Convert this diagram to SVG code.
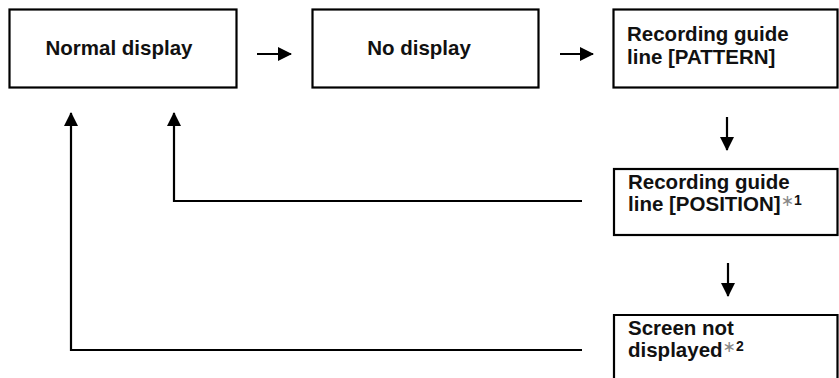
<svg xmlns="http://www.w3.org/2000/svg" width="839" height="378" viewBox="0 0 839 378">
<style>
.box{fill:#fff;stroke:#000;stroke-width:2.2}
.t{font-family:"Liberation Sans",Arial,sans-serif;font-weight:bold;font-size:20.5px;fill:#111}
.c{fill:none;stroke:#000;stroke-width:2.2}
.ast{font-family:"DejaVu Sans",sans-serif;font-weight:normal;fill:#888;font-size:16px}
.sup{font-size:14px}
</style>
<defs>
<marker id="ah" viewBox="0 0 14 14" refX="13" refY="7" markerWidth="14" markerHeight="14" markerUnits="userSpaceOnUse" orient="auto">
<path d="M0,0 L14,7 L0,14 Z" fill="#000"/>
</marker>
</defs>
<g id="normal"><rect class="box" x="9.5" y="9.5" width="227" height="78"/><text class="t" x="119" y="55" text-anchor="middle">Normal display</text></g>
<g id="nodisplay"><rect class="box" x="312.5" y="9.5" width="226" height="78"/><text class="t" x="419" y="55" text-anchor="middle">No display</text></g>
<g id="pattern"><rect class="box" x="613.5" y="9.5" width="224" height="78"/><text class="t" x="627" y="41">Recording guide</text><text class="t" x="627" y="64">line [PATTERN]</text></g>
<g id="position"><rect class="box" x="614" y="169" width="223.5" height="66"/><text class="t" x="628" y="189">Recording guide</text><text class="t" x="628" y="211">line [POSITION]<tspan class="ast" dx="0" dy="-5">∗</tspan><tspan class="sup" dy="-1">1</tspan></text></g>
<g id="notdisplayed"><path class="box" d="M614,390 V315 H837.5 V390"/><text class="t" x="628" y="335">Screen not</text><text class="t" x="628" y="357">displayed<tspan class="ast" dx="0" dy="-5">∗</tspan><tspan class="sup" dy="-1">2</tspan></text></g>
<g id="connectors">
<path class="c" d="M257,54 H291" marker-end="url(#ah)"/>
<path class="c" d="M560,54 H593" marker-end="url(#ah)"/>
<path class="c" d="M727,117 V150" marker-end="url(#ah)"/>
<path class="c" d="M728,263 V296" marker-end="url(#ah)"/>
<path class="c" d="M582,201 H174 V113" marker-end="url(#ah)"/>
<path class="c" d="M582,350 H71 V113" marker-end="url(#ah)"/>
</g>
</svg>
